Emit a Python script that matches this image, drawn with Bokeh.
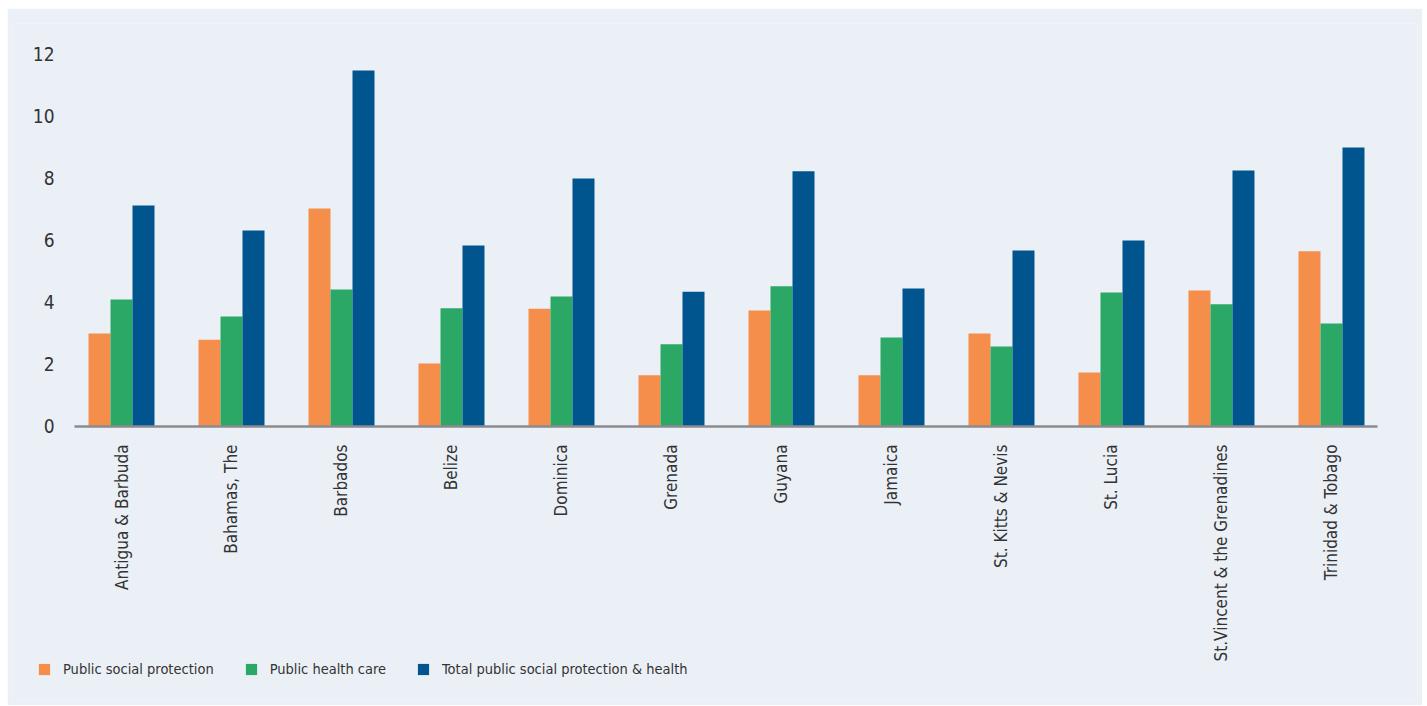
import math
from bokeh.plotting import figure
from bokeh.models import Range1d, FixedTicker, Legend, LegendItem, ColumnDataSource
from bokeh.transform import dodge
from bokeh.embed import file_html
from bokeh.resources import INLINE

countries = ["Antigua & Barbuda", "Bahamas, The", "Barbados", "Belize", "Dominica",
             "Grenada", "Guyana", "Jamaica", "St. Kitts & Nevis", "St. Lucia",
             "St.Vincent & the Grenadines", "Trinidad & Tobago"]
social = [3.0, 2.8, 7.03, 2.03, 3.8, 1.65, 3.74, 1.65, 3.0, 1.74, 4.39, 5.65]
health = [4.1, 3.55, 4.42, 3.81, 4.19, 2.65, 4.52, 2.87, 2.58, 4.32, 3.94, 3.32]
total = [7.13, 6.32, 11.48, 5.84, 8.0, 4.35, 8.23, 4.45, 5.68, 6.0, 8.26, 9.0]
y_ticks = [0, 2, 4, 6, 8, 10, 12]
series_names = ["Public social protection", "Public health care",
                "Total public social protection & health"]

FONT = "DejaVu Sans Condensed"
BG = "#EBF0F7"
colors = ["#F68E4B", "#2CA866", "#00558F"]

idx = list(range(len(countries)))
src = ColumnDataSource(dict(x=idx, social=social, health=health, total=total))

AX_START, AX_END = -0.427, 11.418

p = figure(width=1415, height=697, output_backend="svg", toolbar_location=None,
           x_range=Range1d(-0.991, 11.782), y_range=Range1d(-8.84, 13),
           min_border_left=5, min_border_right=5, min_border_top=15,
           min_border_bottom=5)
p.margin = (8, 0, 0, 7)
p.background_fill_color = BG
p.border_fill_color = BG
p.outline_line_color = None
p.xgrid.visible = False
p.ygrid.visible = False

w = 0.2
r1 = p.vbar(x=dodge("x", -0.2, range=p.x_range), top="social", width=w, source=src,
            fill_color=colors[0], line_color=None)
r2 = p.vbar(x=dodge("x", 0.0, range=p.x_range), top="health", width=w, source=src,
            fill_color=colors[1], line_color=None)
r3 = p.vbar(x=dodge("x", 0.2, range=p.x_range), top="total", width=w, source=src,
            fill_color=colors[2], line_color=None)

# x axis
xa = p.xaxis[0]
xa.fixed_location = 0
xa.bounds = (AX_START, AX_END)
xa.ticker = FixedTicker(ticks=idx)
xa.major_label_overrides = {i: c for i, c in enumerate(countries)}
xa.major_label_orientation = math.pi / 2
xa.major_tick_line_color = None
xa.minor_tick_line_color = None
xa.major_tick_out = 0
xa.major_tick_in = 0
xa.axis_line_color = "#8A8B90"
xa.axis_line_width = 2.5
xa.major_label_text_font = FONT
xa.major_label_text_font_size = "17px"
xa.major_label_text_color = "#333333"
xa.major_label_standoff = 18

# y axis
ya = p.yaxis[0]
ya.fixed_location = AX_START
ya.ticker = FixedTicker(ticks=y_ticks)
ya.axis_line_color = None
ya.major_tick_line_color = None
ya.minor_tick_line_color = None
ya.major_tick_out = 0
ya.major_tick_in = 0
ya.major_label_text_font = FONT
ya.major_label_text_font_size = "19px"
ya.major_label_text_color = "#333333"
ya.major_label_standoff = 20

legend = Legend(items=[LegendItem(label=series_names[0], renderers=[r1]),
                       LegendItem(label=series_names[1], renderers=[r2]),
                       LegendItem(label=series_names[2], renderers=[r3])],
                location=(25, 23), orientation="horizontal",
                background_fill_alpha=0, border_line_color=None,
                glyph_width=14, glyph_height=14, label_standoff=12, spacing=30,
                padding=0, margin=0,
                label_text_font=FONT, label_text_font_size="14.5px",
                label_text_color="#333333")
p.add_layout(legend, "center")

open("out.html", "w").write(file_html(p, INLINE))
